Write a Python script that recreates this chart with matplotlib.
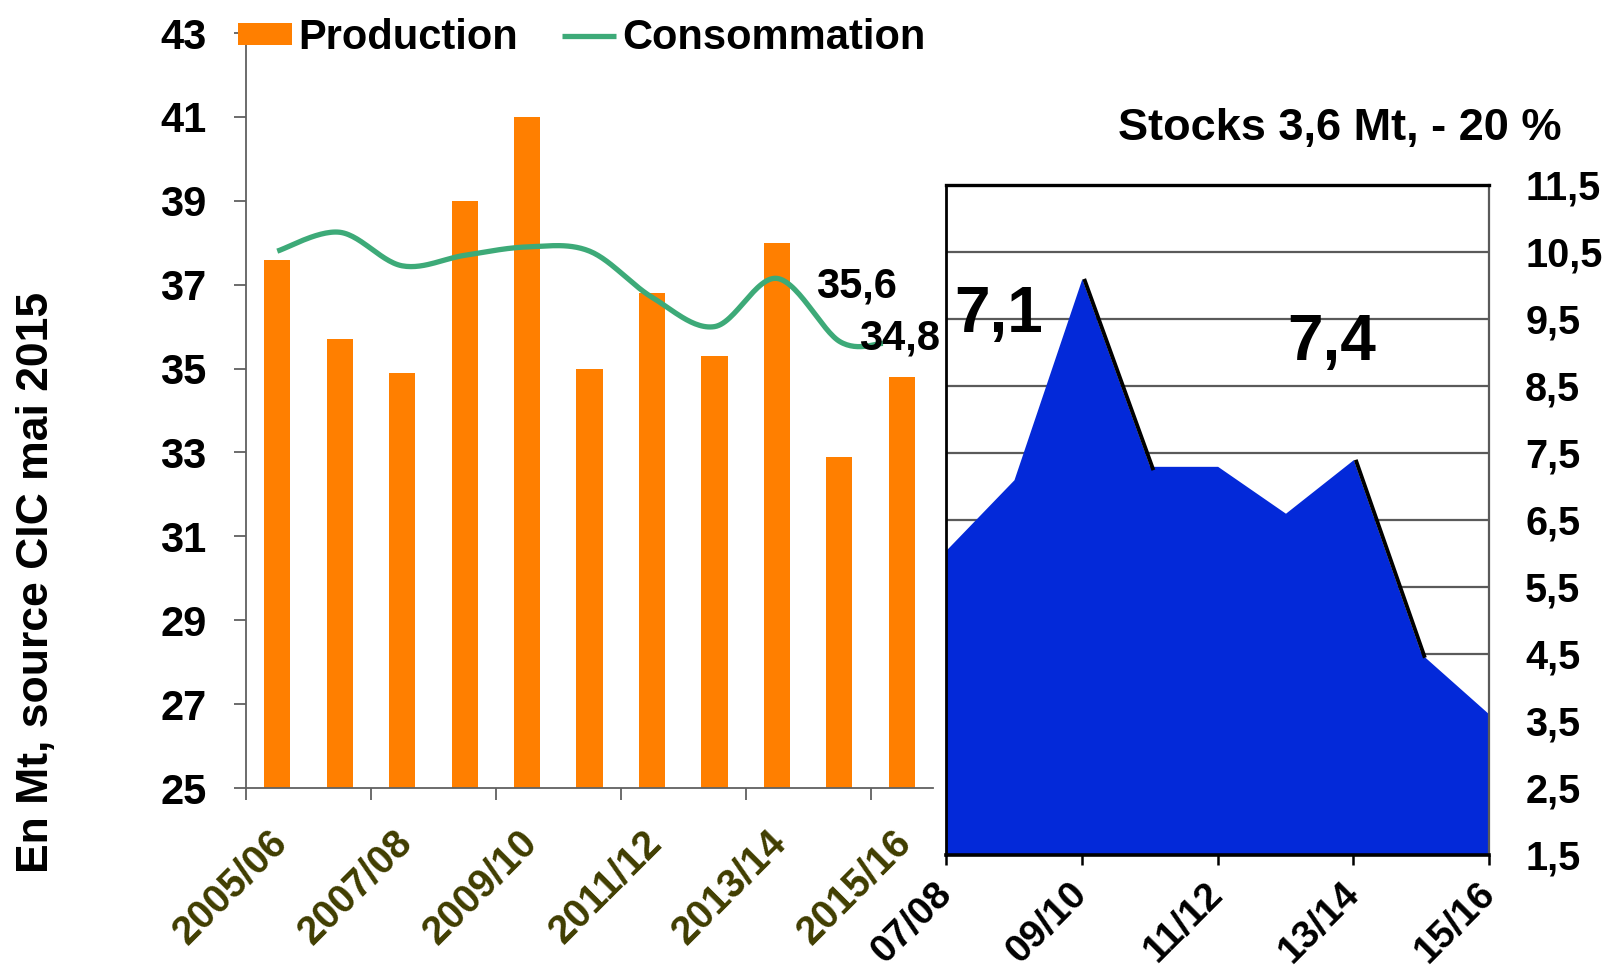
import numpy as np
import matplotlib
matplotlib.use("Agg")
import matplotlib.pyplot as plt
from matplotlib.transforms import ScaledTranslation

seasons = ['2005/06', '2006/07', '2007/08', '2008/09', '2009/10', '2010/11',
           '2011/12', '2012/13', '2013/14', '2014/15', '2015/16']
production = [37.6, 35.7, 34.9, 39.0, 41.0, 35.0, 36.8, 35.3, 38.0, 32.9, 34.8]
consumption = [37.8, 38.25, 37.45, 37.7, 37.9, 37.8, 36.7, 36.0, 37.15, 35.65, 35.6]

stock_seasons = ['07/08', '08/09', '09/10', '10/11', '11/12', '12/13',
                 '13/14', '14/15', '15/16']
stocks = [6.05, 7.1, 10.1, 7.3, 7.3, 6.6, 7.4, 4.5, 3.6]

ORANGE = '#ff7f00'
GREEN = '#3daa78'
BLUE = '#0329d9'
OLIVE = '#403d00'


def smooth(x, y, n=30):
    # Catmull-Rom, proche de la "courbe lissée" d'Excel
    px = np.concatenate([[x[0]], x, [x[-1]]]).astype(float)
    py = np.concatenate([[y[0]], y, [y[-1]]]).astype(float)
    t = np.linspace(0, 1, n)
    h00 = 2 * t**3 - 3 * t**2 + 1
    h10 = t**3 - 2 * t**2 + t
    h01 = -2 * t**3 + 3 * t**2
    h11 = t**3 - t**2
    xs, ys = [], []
    for i in range(1, len(px) - 2):
        for p, out in ((px, xs), (py, ys)):
            m0 = (p[i + 1] - p[i - 1]) / 2
            m1 = (p[i + 2] - p[i]) / 2
            out.extend(h00 * p[i] + h10 * m0 + h01 * p[i + 1] + h11 * m1)
    return np.array(xs), np.array(ys)


def comma(v):
    return f'{v:.1f}'.replace('.', ',')


def draw_chart():
    plt.rcParams['font.family'] = ['Liberation Sans', 'DejaVu Sans']
    plt.rcParams['font.weight'] = 'bold'

    fig = plt.figure(figsize=(16.09, 9.8), dpi=100)

    # 1. Production / consommation
    ax1 = fig.add_axes([0.1529, 0.1959, 0.427, 0.7704])
    x = np.arange(len(seasons))
    bars = ax1.bar(x, production, width=0.42, color=ORANGE, zorder=2)

    # la courbe s'arrête un peu avant la barre 2015/16 dans l'original
    cons_x = x.astype(float)
    cons_x[-1] = 9.7
    sx, sy = smooth(cons_x, consumption)
    line, = ax1.plot(sx, sy, color=GREEN, lw=3.8, zorder=3,
                     solid_capstyle='butt')

    ax1.set_xlim(-0.5, 10.5)
    ax1.set_ylim(25, 43)
    ax1.set_yticks(range(25, 44, 2))
    for s in ('top', 'right'):
        ax1.spines[s].set_visible(False)
    for s in ('left', 'bottom'):
        ax1.spines[s].set_color('#606060')
        ax1.spines[s].set_linewidth(1.3)
    ax1.tick_params(axis='y', length=8.6, width=1.3, color='#606060',
                    pad=20, labelsize=30)
    ax1.set_xticks(x[::2])
    ax1.set_xticklabels(seasons[::2], rotation=45, ha='right', va='center',
                        rotation_mode='anchor', fontsize=28.5, color=OLIVE)
    ax1.tick_params(axis='x', which='major', length=0, pad=35)
    ax1.set_xticks(np.arange(-0.5, 10, 2), minor=True)
    ax1.tick_params(axis='x', which='minor', length=8.6, width=1.3,
                    color='#606060')
    shift = ScaledTranslation(3.5 / 100, 0, fig.dpi_scale_trans)
    for lbl in ax1.get_xticklabels():
        lbl.set_transform(lbl.get_transform() + shift)

    ax1.text(8.62, 36.7, comma(consumption[-1]), fontsize=30, clip_on=False)
    ax1.text(9.31, 35.46, comma(production[-1]), fontsize=30, clip_on=False)

    fig.legend([bars, line], ['Production', 'Consommation'], loc='upper left',
               bbox_to_anchor=(0.148, 0.982), ncol=2, frameon=False,
               fontsize=30, handlelength=1.3, handleheight=0.45,
               handletextpad=0.15, columnspacing=1.05, borderpad=0,
               borderaxespad=0)

    fig.text(0.0224, 0.406, 'En Mt, source CIC mai 2015', rotation=90,
             ha='center', va='center', fontsize=32)

    # 2. Stocks
    ax2 = fig.add_axes([0.588, 0.1276, 0.3375, 0.6837])
    xs = np.arange(len(stocks))
    ax2.fill_between(xs, stocks, 1.5, color=BLUE, lw=0, zorder=2)
    # arête noire sur les fortes baisses
    edge = ScaledTranslation(3 / 100, -2 / 100, fig.dpi_scale_trans)
    for i in np.where(np.diff(stocks) < -2)[0]:
        ax2.plot(xs[i:i + 2], stocks[i:i + 2], color='black', lw=2.8,
                 zorder=3, transform=ax2.transData + edge)

    ax2.set_xlim(0, len(stocks) - 1)
    ax2.set_ylim(1.5, 11.5)
    yt = np.arange(1.5, 11.6, 1)
    ax2.set_yticks(yt)
    ax2.set_yticklabels([comma(v) for v in yt])
    ax2.yaxis.tick_right()
    ax2.tick_params(axis='y', length=0, pad=26, labelsize=28.5)
    ax2.set_axisbelow(True)
    ax2.grid(axis='y', color='#5a5a5a', lw=1.6)
    ax2.set_xticks(xs[::2])
    ax2.set_xticklabels(stock_seasons[::2], rotation=45, ha='right',
                        va='center', rotation_mode='anchor', fontsize=28)
    ax2.tick_params(axis='x', length=7, width=1.8, color='black', pad=17)
    ax2.spines['top'].set_linewidth(2.4)
    ax2.spines['left'].set_linewidth(2.0)
    ax2.spines['bottom'].set_linewidth(2.6)
    ax2.spines['right'].set_color('#5a5a5a')
    ax2.spines['right'].set_linewidth(1.6)
    for s in ('top', 'left', 'bottom'):
        ax2.spines[s].set_color('black')

    fig.text(0.695, 0.857, 'Stocks 3,6 Mt, - 20 %', fontsize=32.5,
             va='baseline')
    fig.text(0.593, 0.661, comma(stocks[1]), fontsize=46, va='baseline')
    fig.text(0.800, 0.633, comma(stocks[6]), fontsize=46, va='baseline')

    fig.savefig('out.png', dpi=100)


if __name__ == '__main__':
    draw_chart()
